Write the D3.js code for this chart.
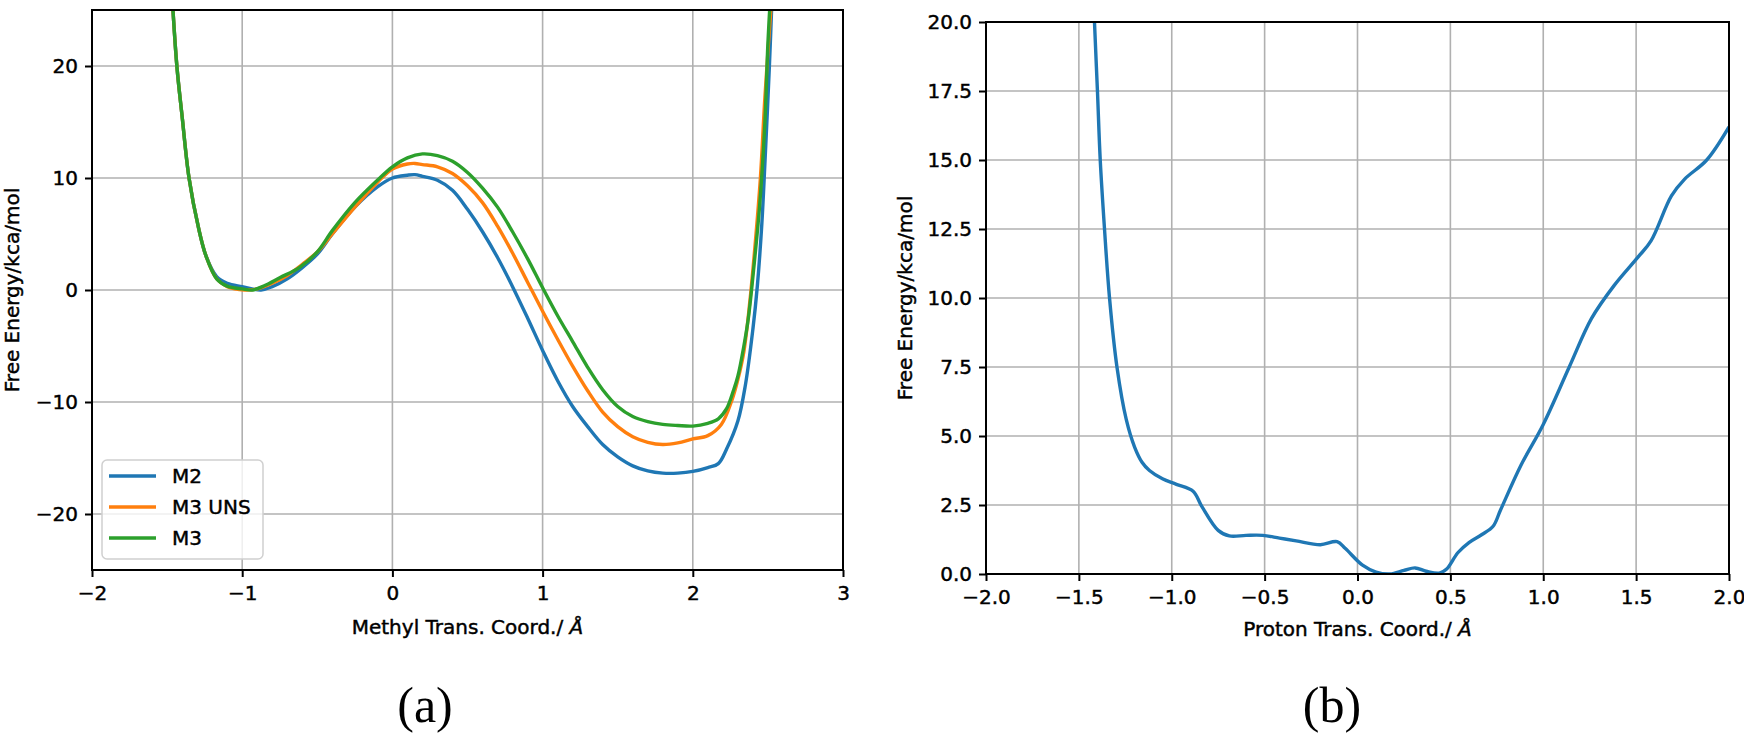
<!DOCTYPE html>
<html>
<head>
<meta charset="utf-8">
<script src="https://cdn.jsdelivr.net/npm/d3@7"></script>
<style>
  body { margin: 0; background: #fff; }
  text { font-family: "DejaVu Sans", sans-serif; }
  .heavy { stroke: #000; stroke-width: 0.45px; }
</style>
</head>
<body>
<div class="chart"></div>
<script>
// panel (a): methyl transfer
const methylXTicks = [-2, -1, 0, 1, 2, 3];
const methylYTicks = [-20, -10, 0, 10, 20];

const m2X = [-1.47, -1.435, -1.40, -1.354, -1.29, -1.24, -1.17, -1.10, -1.00, -0.875, -0.80, -0.70, -0.60, -0.50, -0.40, -0.25, -0.10, 0.00, 0.10, 0.15, 0.20, 0.30, 0.40, 0.50, 0.60, 0.70, 0.80, 0.90, 1.00, 1.10, 1.20, 1.30, 1.40, 1.50, 1.60, 1.70, 1.80, 1.90, 2.00, 2.10, 2.17, 2.225, 2.30, 2.35, 2.40, 2.43, 2.46, 2.48, 2.51, 2.53];
const m2Y = [27, 20, 15.5, 10, 5.5, 3, 1.2, 0.6, 0.3, 0, 0.3, 1.0, 2.0, 3.2, 5.0, 7.4, 9.2, 10.0, 10.25, 10.3, 10.15, 9.8, 8.9, 7.2, 5.2, 2.9, 0.3, -2.5, -5.4, -8.1, -10.4, -12.2, -13.8, -14.9, -15.7, -16.15, -16.35, -16.35, -16.2, -15.85, -15.5, -14.2, -11.7, -8.5, -3.5, 0.4, 6, 11.3, 20, 27];

const m3unsX = [-1.47, -1.435, -1.40, -1.354, -1.29, -1.24, -1.17, -1.10, -0.985, -0.90, -0.80, -0.70, -0.60, -0.50, -0.40, -0.25, -0.10, 0.00, 0.10, 0.15, 0.20, 0.30, 0.40, 0.50, 0.60, 0.70, 0.80, 0.90, 1.00, 1.10, 1.20, 1.30, 1.40, 1.50, 1.60, 1.70, 1.80, 1.90, 2.00, 2.10, 2.19, 2.26, 2.30, 2.34, 2.38, 2.41, 2.45, 2.48, 2.53];
const m3unsY = [27, 20, 15.5, 10, 5.5, 3, 1, 0.3, 0, 0.1, 0.6, 1.3, 2.3, 3.4, 5.0, 7.4, 9.6, 10.8, 11.25, 11.3, 11.2, 11.0, 10.4, 9.3, 7.8, 5.7, 3.3, 0.7, -1.9, -4.4, -6.8, -9.0, -10.9, -12.2, -13.1, -13.6, -13.8, -13.65, -13.3, -13.0, -12.0, -9.85, -8.0, -5.5, -1.0, 3.3, 10, 17.2, 27];

const m3X = [-1.47, -1.435, -1.40, -1.354, -1.29, -1.24, -1.17, -1.10, -1.00, -0.93, -0.85, -0.75, -0.62, -0.50, -0.40, -0.25, -0.10, 0.00, 0.10, 0.20, 0.30, 0.40, 0.50, 0.60, 0.70, 0.80, 0.90, 1.00, 1.10, 1.20, 1.30, 1.40, 1.50, 1.60, 1.70, 1.80, 1.90, 2.00, 2.10, 2.17, 2.225, 2.27, 2.30, 2.34, 2.37, 2.41, 2.446, 2.48, 2.50, 2.52];
const m3Y = [27, 20, 15.5, 10, 5.5, 3, 1, 0.35, 0.1, 0, 0.4, 1.1, 2.0, 3.4, 5.3, 7.8, 9.8, 11.0, 11.8, 12.15, 12.0, 11.5, 10.5, 9.1, 7.4, 5.2, 2.8, 0.2, -2.3, -4.6, -6.9, -8.9, -10.4, -11.3, -11.75, -12.0, -12.1, -12.15, -11.9, -11.5, -10.6, -9.0, -7.7, -5.0, -2.5, 2.5, 7.7, 15, 22, 27];

const seriesNames = ["M2", "M3 UNS", "M3"];
const seriesColors = ["#1f77b4", "#ff7f0e", "#2ca02c"];

// panel (b): proton transfer
const protonXTicks = [-2, -1.5, -1, -0.5, 0, 0.5, 1, 1.5, 2];
const protonYTicks = [0, 2.5, 5, 7.5, 10, 12.5, 15, 17.5, 20];
const protonX = [-1.42, -1.416, -1.40, -1.385, -1.362, -1.335, -1.295, -1.245, -1.20, -1.16, -1.12, -1.05, -0.975, -0.885, -0.84, -0.75, -0.69, -0.60, -0.51, -0.42, -0.33, -0.20, -0.11, -0.065, 0.025, 0.10, 0.175, 0.25, 0.31, 0.37, 0.44, 0.48, 0.54, 0.60, 0.67, 0.73, 0.77, 0.88, 1.00, 1.14, 1.26, 1.38, 1.51, 1.58, 1.69, 1.76, 1.88, 2.00];
const protonY = [21, 20, 17.5, 15.0, 12.5, 10, 7.5, 5.6, 4.6, 4.05, 3.75, 3.45, 3.25, 3.0, 2.47, 1.58, 1.38, 1.4, 1.4, 1.3, 1.2, 1.06, 1.17, 0.92, 0.33, 0.07, 0.0, 0.13, 0.22, 0.1, 0.03, 0.18, 0.77, 1.14, 1.43, 1.73, 2.32, 3.94, 5.42, 7.5, 9.26, 10.44, 11.48, 12.07, 13.7, 14.3, 15.0, 16.2];

const svg = d3.select(".chart").append("svg")
    .attr("width", 1744)
    .attr("height", 736)

svg.append("rect").attr("width", 1744).attr("height", 736).attr("fill", "#fff")

function drawPanel(opt) {
    const g = svg.append("g")
        .attr("transform", `translate(${opt.left},${opt.top})`)
    const w = opt.width, h = opt.height

    const x = d3.scaleLinear().domain(opt.xDomain).range([0, w])
    const y = d3.scaleLinear().domain(opt.yDomain).range([h, 0])

    // grid
    g.append("g").selectAll("line").data(opt.xTicks).join("line")
        .attr("x1", d => x(d)).attr("x2", d => x(d))
        .attr("y1", 0).attr("y2", h)
        .attr("stroke", "#b0b0b0").attr("stroke-width", 1.6)
    g.append("g").selectAll("line").data(opt.yTicks).join("line")
        .attr("y1", d => y(d)).attr("y2", d => y(d))
        .attr("x1", 0).attr("x2", w)
        .attr("stroke", "#b0b0b0").attr("stroke-width", 1.6)

    const clipId = "clip-" + opt.name
    g.append("clipPath").attr("id", clipId)
        .append("rect").attr("width", w).attr("height", h)

    const line = d3.line()
        .x(d => x(d[0]))
        .y(d => y(d[1]))
        .curve(d3.curveCatmullRom.alpha(0.5))

    opt.series.forEach(s => {
        g.append("path")
            .datum(d3.zip(s.xs, s.ys))
            .attr("clip-path", `url(#${clipId})`)
            .attr("fill", "none")
            .attr("stroke", s.color)
            .attr("stroke-width", 3.4)
            .attr("stroke-linejoin", "round")
            .attr("d", line)
    })

    // axes
    const xAxis = g.append("g")
        .attr("transform", `translate(0,${h})`)
        .call(d3.axisBottom(x).tickValues(opt.xTicks).tickFormat(opt.fmt)
            .tickSize(7).tickPadding(9).tickSizeOuter(0))
    const yAxis = g.append("g")
        .call(d3.axisLeft(y).tickValues(opt.yTicks).tickFormat(opt.fmt)
            .tickSize(7).tickPadding(7).tickSizeOuter(0))
    ;[xAxis, yAxis].forEach(a => {
        a.select(".domain").remove()
        a.selectAll("line").attr("stroke", "#000").attr("stroke-width", 2)
        a.selectAll("text").attr("font-size", 20).attr("fill", "#000")
            .attr("font-family", "DejaVu Sans").attr("class", "heavy")
    })

    // frame
    g.append("rect")
        .attr("width", w).attr("height", h)
        .attr("fill", "none").attr("stroke", "#000").attr("stroke-width", 2)

    // axis labels
    const xl = g.append("text")
        .attr("class", "heavy")
        .attr("x", w / 2).attr("y", opt.xLabelY)
        .attr("text-anchor", "middle")
        .attr("font-size", 20)
    xl.append("tspan").text(opt.xLabel)
    xl.append("tspan").attr("font-style", "italic").text("Å")

    g.append("text")
        .attr("class", "heavy")
        .attr("transform", `translate(${opt.yLabelX},${h / 2}) rotate(-90)`)
        .attr("text-anchor", "middle")
        .attr("font-size", 20)
        .text("Free Energy/kca/mol")

    // caption
    svg.append("text")
        .attr("x", opt.captionX).attr("y", 722)
        .attr("text-anchor", "middle")
        .attr("font-size", 50)
        .style("font-family", "Liberation Serif")
        .text(opt.caption)

    return g
}

const panelA = drawPanel({
    name: "a", left: 92, top: 10, width: 751, height: 560,
    xDomain: [-2, 3], yDomain: [-25, 25],
    xTicks: methylXTicks, yTicks: methylYTicks, fmt: d3.format("d"),
    series: [
        {xs: m2X, ys: m2Y, color: seriesColors[0]},
        {xs: m3unsX, ys: m3unsY, color: seriesColors[1]},
        {xs: m3X, ys: m3Y, color: seriesColors[2]}
    ],
    xLabel: "Methyl Trans. Coord./ ", xLabelY: 624, yLabelX: -73,
    caption: "(a)", captionX: 425
})

drawPanel({
    name: "b", left: 986, top: 22, width: 743, height: 552,
    xDomain: [-2, 2], yDomain: [0, 20],
    xTicks: protonXTicks, yTicks: protonYTicks, fmt: d3.format(".1f"),
    series: [{xs: protonX, ys: protonY, color: seriesColors[0]}],
    xLabel: "Proton Trans. Coord./ ", xLabelY: 614, yLabelX: -74,
    caption: "(b)", captionX: 1332
})

// legend
const legend = panelA.append("g").attr("transform", "translate(10,450)")
legend.append("rect")
    .attr("width", 161).attr("height", 99).attr("rx", 5)
    .attr("fill", "#fff").attr("fill-opacity", 0.8)
    .attr("stroke", "#d0d0d0").attr("stroke-width", 1.5)
seriesNames.forEach((n, i) => {
    const yy = 16 + i * 31
    legend.append("line")
        .attr("x1", 7).attr("x2", 54).attr("y1", yy).attr("y2", yy)
        .attr("stroke", seriesColors[i]).attr("stroke-width", 3.4)
    legend.append("text")
        .attr("class", "heavy")
        .attr("x", 70).attr("y", yy + 7)
        .attr("font-size", 20)
        .text(n)
})
</script>
</body>
</html>
